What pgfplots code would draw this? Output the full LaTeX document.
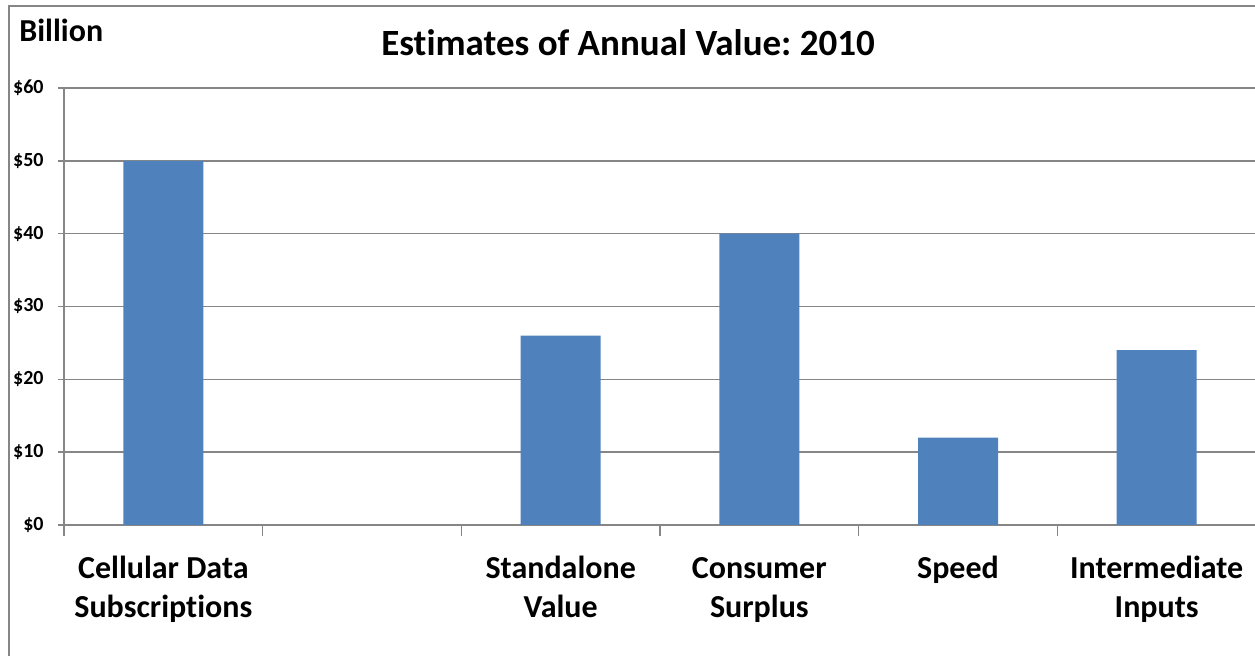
\documentclass[border=0pt]{standalone}
\usepackage{pgfplots}
\pgfplotsset{compat=1.18}
\usepackage{fontspec}
\setmainfont{Carlito}[Ligatures=NoCommon]
\frenchspacing
\definecolor{barblue}{HTML}{4F81BD}
\definecolor{axisgray}{HTML}{868686}
\begin{document}
\begin{tikzpicture}
\useasboundingbox (0,0) rectangle (627.5pt,328pt);
\clip (0,0) rectangle (627.5pt,328pt);
\draw[axisgray, line width=0.75pt] (4.5pt,-10pt) |- (640pt,325pt);
\node[anchor=base, font=\fontsize{18.5}{22}\selectfont\bfseries] at (314pt,300pt) {Estimates of Annual Value: 2010};
\node[anchor=base west, inner sep=0pt, font=\fontsize{16}{19}\selectfont\bfseries] at (9.5pt,307pt) {Billion};
\begin{axis}[
  at={(32pt,65.5pt)}, anchor=south west,
  scale only axis, width=596pt, height=218.5pt,
  xmin=-0.5, xmax=5.5, ymin=0, ymax=60,
  axis lines=left, axis line style={-, axisgray, line width=0.75pt},
  ybar, bar width=40pt,
  ytick={0,10,...,60},
  yticklabels={\$0,\$10,\$20,\$30,\$40,\$50,\$60},
  yticklabel style={font=\fontsize{10}{12}\selectfont\bfseries, inner sep=0pt, anchor=east, xshift=-7pt},
  ymajorgrids, major grid style={axisgray, line width=0.75pt},
  tick align=outside, major tick length=3pt,
  ytick style={axisgray, line width=0.75pt},
  xtick={0,...,5},
  xticklabels={\strut Cellular Data\\Subscriptions,{},\strut Standalone\\Value,\strut Consumer\\Surplus,\strut Speed,\strut Intermediate\\Inputs},
  xtick style={draw=none},
  xticklabel style={font=\fontsize{16}{19.5}\selectfont\bfseries, align=center, anchor=north, inner sep=0pt, yshift=-9.7pt},
  extra x ticks={-0.5,0.5,1.5,2.5,3.5,4.5,5.5},
  extra x tick labels={},
  extra x tick style={major tick length=5.5pt, xtick style={draw=axisgray, line width=0.75pt}, grid=none},
  clip=false,
]
\addplot[fill=barblue, draw=none] coordinates {(0,50) (2,26) (3,40) (4,12) (5,24)};
\end{axis}
\end{tikzpicture}
\end{document}
